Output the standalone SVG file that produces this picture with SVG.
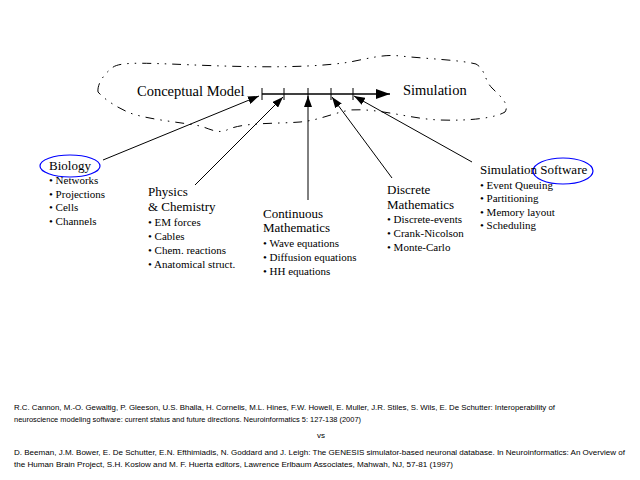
<svg xmlns="http://www.w3.org/2000/svg" width="640" height="480" viewBox="0 0 640 480">
<style>
.h{font-family:"Liberation Serif","Times New Roman",serif;font-size:13px;fill:#000}
.big{font-family:"Liberation Serif","Times New Roman",serif;font-size:14.5px;fill:#000}
.b{font-family:"Liberation Serif","Times New Roman",serif;font-size:11px;fill:#000}
.ref{font-family:"Liberation Sans",Arial,sans-serif;font-size:8px;fill:#000}
.c{stroke:#000;stroke-width:1;fill:none}
.ell{fill:none;stroke:#0000ff;stroke-width:1.2}
</style>
<defs>
<marker id="ah" markerUnits="userSpaceOnUse" markerWidth="12" markerHeight="8" refX="11" refY="4" orient="auto">
<path d="M0,0 L11,4 L0,8 Z" fill="#000"/>
</marker>
<marker id="bigah" markerUnits="userSpaceOnUse" markerWidth="15" markerHeight="10" refX="14" refY="5" orient="auto">
<path d="M0,0 L14,5 L0,10 Z" fill="#000"/>
</marker>
</defs>
<rect width="640" height="480" fill="#fff"/>
<g id="cloud">
<path d="M98,92 C97,84 104,74 112,68 C118,62 140,63 170,64 C220,66 300,70 350,62 C370,58 385,54 400,56 C430,59 460,60 476,64 C486,70 484,80 492,88 C500,96 510,104 505,112 C495,118 470,121 440,120 C410,119 380,108 350,110 C330,114 320,120 300,122 C275,124 240,122 225,131 C215,133 208,128 200,126 C180,122 150,120 130,113 C118,108 105,100 98,92 Z" fill="none" stroke="#000" stroke-width="1" stroke-dasharray="9 6 1.5 6 1.5 6"/>
</g>
<g id="conceptual-model"><text class="big" x="137" y="96">Conceptual Model</text></g>
<g id="simulation"><text class="big" x="403" y="95">Simulation</text></g>
<g id="timeline">
<line x1="262" y1="94" x2="390" y2="94" stroke="#000" stroke-width="1.3" marker-end="url(#bigah)"/>
<g stroke="#000" stroke-width="1">
<line x1="262" y1="88" x2="262" y2="100"/>
<line x1="284" y1="88" x2="284" y2="100"/>
<line x1="308" y1="88" x2="308" y2="100"/>
<line x1="331" y1="88" x2="331" y2="100"/>
<line x1="353" y1="88" x2="353" y2="100"/>
</g>
</g>
<g id="connectors">
<line class="c" x1="103" y1="160" x2="259" y2="96" marker-end="url(#ah)"/>
<line class="c" x1="195" y1="185" x2="283" y2="97" marker-end="url(#ah)"/>
<line class="c" x1="308" y1="200" x2="308" y2="96" marker-end="url(#ah)"/>
<line class="c" x1="392" y1="178" x2="332" y2="97" marker-end="url(#ah)"/>
<line class="c" x1="472" y1="162" x2="354" y2="96" marker-end="url(#ah)"/>
</g>
<g id="biology">
<ellipse class="ell" cx="70" cy="166" rx="30" ry="11"/>
<text class="h" x="49" y="170">Biology</text>
<text class="b" x="49" y="184">• Networks</text>
<text class="b" x="49" y="198">• Projections</text>
<text class="b" x="49" y="211">• Cells</text>
<text class="b" x="49" y="225">• Channels</text>
</g>
<g id="physics">
<text class="h" x="148" y="196">Physics</text>
<text class="h" x="148" y="211">&amp; Chemistry</text>
<text class="b" x="148" y="226">• EM forces</text>
<text class="b" x="148" y="240">• Cables</text>
<text class="b" x="148" y="254">• Chem. reactions</text>
<text class="b" x="148" y="268">• Anatomical struct.</text>
</g>
<g id="continuous">
<text class="h" x="263" y="218">Continuous</text>
<text class="h" x="263" y="232">Mathematics</text>
<text class="b" x="263" y="247">• Wave equations</text>
<text class="b" x="263" y="261">• Diffusion equations</text>
<text class="b" x="263" y="275">• HH equations</text>
</g>
<g id="discrete">
<text class="h" x="387" y="194">Discrete</text>
<text class="h" x="387" y="209">Mathematics</text>
<text class="b" x="387" y="223">• Discrete-events</text>
<text class="b" x="387" y="237">• Crank-Nicolson</text>
<text class="b" x="387" y="251">• Monte-Carlo</text>
</g>
<g id="software">
<ellipse class="ell" cx="563" cy="171" rx="30" ry="13"/>
<text class="h" x="480" y="174">Simulation Software</text>
<text class="b" x="480" y="189">• Event Queuing</text>
<text class="b" x="480" y="202">• Partitioning</text>
<text class="b" x="480" y="216">• Memory layout</text>
<text class="b" x="480" y="229">• Scheduling</text>
</g>
<g id="references">
<text class="ref" x="14" y="410" textLength="541" lengthAdjust="spacingAndGlyphs">R.C. Cannon, M.-O. Gewaltig, P. Gleeson, U.S. Bhalla, H. Cornelis, M.L. Hines, F.W. Howell, E. Muller, J.R. Stiles, S. Wils, E. De Schutter: Interoperability of</text>
<text class="ref" x="14" y="422" textLength="347" lengthAdjust="spacingAndGlyphs">neuroscience modeling software: current status and future directions. Neuroinformatics 5: 127-138 (2007)</text>
<text class="ref" x="317" y="438">vs</text>
<text class="ref" x="14" y="455" textLength="611" lengthAdjust="spacingAndGlyphs">D. Beeman, J.M. Bower, E. De Schutter, E.N. Efthimiadis, N. Goddard and J. Leigh: The GENESIS simulator-based neuronal database. In Neuroinformatics: An Overview of</text>
<text class="ref" x="14" y="467" textLength="439" lengthAdjust="spacingAndGlyphs">the Human Brain Project, S.H. Koslow and M. F. Huerta editors, Lawrence Erlbaum Associates, Mahwah, NJ, 57-81 (1997)</text>
</g>
</svg>
